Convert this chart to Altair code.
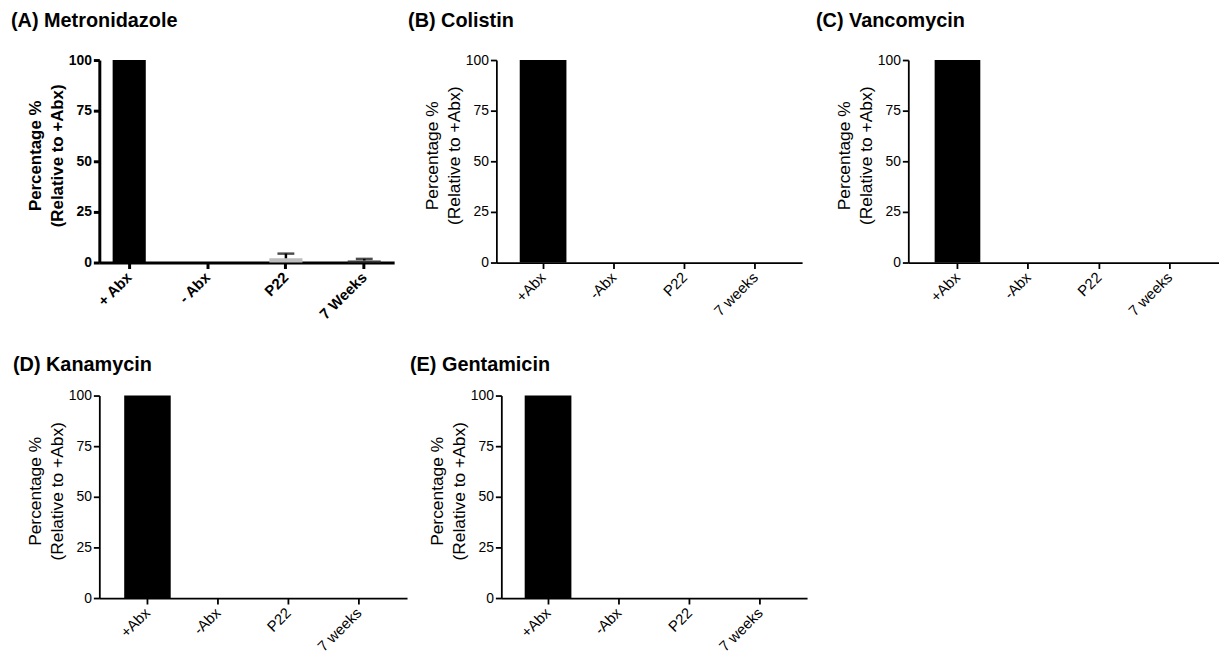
import altair as alt
import pandas as pd

FONT = "Liberation Sans"

titles = ["(A) Metronidazole", "(B) Colistin", "(C) Vancomycin", "(D) Kanamycin", "(E) Gentamicin"]
cats_a = ["+ Abx", "- Abx", "P22", "7 Weeks"]
cats_rest = ["+Abx", "-Abx", "P22", "7 weeks"]
vals_a = [100, 0, 2.1, 1.0]
errs_a = [0, 0, 2.3, 0.8]
fills_a = ["#000000", "#000000", "#bdbdbd", "#3a3a3a"]
vals_b = [100, 0, 0, 0]
vals_c = [100, 0, 0, 0]
vals_d = [100, 0, 0, 0]
vals_e = [100, 0, 0, 0]
errs_zero = [0, 0, 0, 0]
fills_rest = ["#000000", "#000000", "#000000", "#000000"]
y_ticks = [0, 25, 50, 75, 100]
y_title = ["Percentage %", "(Relative to +Abx)"]


def panel(title, cats, vals, errs, fills, bold, width, height, p_in, p_out,
          extent, title_dx, title_offset):
    df = pd.DataFrame({
        "cat": cats,
        "val": vals,
        "top": [v + e for v, e in zip(vals, errs)],
        "fill": fills,
    })
    weight = "bold" if bold else "normal"
    lw = 3 if bold else 1.8
    x = alt.X(
        "cat:N",
        scale=alt.Scale(domain=cats, paddingInner=p_in, paddingOuter=p_out),
        axis=alt.Axis(
            title=None, labelAngle=-45, labelAlign="right", labelBaseline="middle",
            labelFont=FONT, labelFontSize=15, labelFontWeight=weight, labelColor="black",
            labelPadding=6, domainColor="black", domainWidth=lw, tickColor="black",
            tickWidth=lw, tickSize=6, minExtent=60, maxExtent=60,
        ),
    )
    y = alt.Y(
        "val:Q",
        scale=alt.Scale(domain=[0, 100], nice=False),
        axis=alt.Axis(
            values=y_ticks, title=y_title, grid=False,
            labelFont=FONT, labelFontSize=14, labelFontWeight=weight, labelColor="black",
            labelPadding=2, domainColor="black", domainWidth=lw, tickColor="black",
            tickWidth=lw, tickSize=6,
            titleFont=FONT, titleFontSize=17.5 if not bold else 17, titleFontWeight=weight,
            titleColor="black", titleLineHeight=22, titleBaseline="alphabetic",
            titleAngle=-90, titleAlign="center",
            titleX=-59, titleY=height / 2 - 6,
            minExtent=extent, maxExtent=extent,
        ),
    )
    base = alt.Chart(df)
    layers = [base.mark_bar().encode(x=x, y=y, color=alt.Color("fill:N", scale=None))]
    if any(e > 0 for e in errs):
        eb = base.transform_filter("datum.top > datum.val")
        layers.append(eb.mark_rule(color="black", strokeWidth=2.5).encode(
            x=alt.X("cat:N"), y=alt.Y("val:Q"), y2="top:Q"))
        layers.append(eb.mark_tick(color="black", thickness=2.5, size=17).encode(
            x=alt.X("cat:N"), y=alt.Y("top:Q")))
    return alt.layer(*layers).properties(
        width=width, height=height,
        title=alt.TitleParams(
            text=title, anchor="start", frame="group", dx=title_dx, offset=title_offset,
            font=FONT, fontSize=20, fontWeight="bold", color="black", baseline="alphabetic",
        ),
    )


pa = panel(titles[0], cats_a, vals_a, errs_a, fills_a, True, 297, 204, 0.577, 0.17, 92, -89, 6)
pb = panel(titles[1], cats_rest, vals_b, errs_zero, fills_rest, False, 308, 204, 0.34, 0.33, 92, -89, 6)
pc = panel(titles[2], cats_rest, vals_c, errs_zero, fills_rest, False, 313, 204, 0.355, 0.372, 96, -93, 6)
pd_ = panel(titles[3], cats_rest, vals_d, errs_zero, fills_rest, False, 310, 204, 0.34, 0.353, 89, -87, -2)
pe = panel(titles[4], cats_rest, vals_e, errs_zero, fills_rest, False, 308, 204, 0.34, 0.33, 92, -92, -2)

row1 = alt.hconcat(pa, pb, pc, spacing=11)
row2 = alt.hconcat(pd_, pe, spacing=3)

chart = alt.vconcat(row1, row2, spacing=33).properties(
    padding={"left": 0, "top": 1, "right": 0, "bottom": 0},
    background="white",
).configure_view(stroke=None)

chart.save("out.html", embed_options={"renderer": "svg", "actions": False})
